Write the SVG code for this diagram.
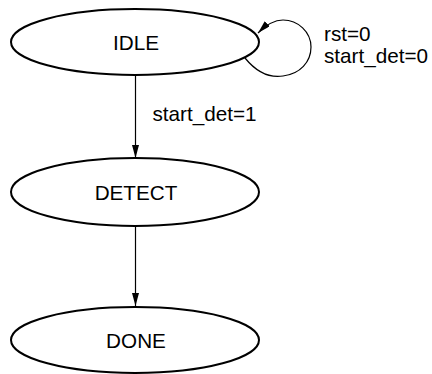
<svg xmlns="http://www.w3.org/2000/svg" width="432" height="374" viewBox="0 0 432 374">
<style>
.node{fill:#ffffff;stroke:#000000;stroke-width:2}
.lbl{font-family:"Liberation Sans",Arial,sans-serif;font-size:20.7px;fill:#000000}
.edge{fill:none;stroke:#000000;stroke-width:1.2}
</style>
<defs>
<marker id="arr" markerUnits="userSpaceOnUse" markerWidth="14" markerHeight="8" refX="13" refY="3.5" orient="auto">
<path d="M0,0 L13,3.5 L0,7 z" fill="#000000"/>
</marker>
</defs>
<rect width="432" height="374" fill="#ffffff"/>
<g id="edges">
<line class="edge" x1="135.5" y1="75" x2="135.5" y2="158" marker-end="url(#arr)"/>
<line class="edge" x1="135.5" y1="226" x2="135.5" y2="306" marker-end="url(#arr)"/>
<path class="edge" d="M245,58 C258,74 270,78 283,76 C300,74 311,62 311,47 C311,32 298,20 283,20 C273,20 265,26 258,33" marker-end="url(#arr)"/>
<text class="lbl" x="152.5" y="121">start_det=1</text>
<text class="lbl" x="324" y="41">rst=0</text>
<text class="lbl" x="324" y="63">start_det=0</text>
</g>
<g id="IDLE">
<ellipse class="node" cx="135" cy="42" rx="124" ry="33"/>
<text class="lbl" x="136" y="50" text-anchor="middle">IDLE</text>
</g>
<g id="DETECT">
<ellipse class="node" cx="135" cy="192" rx="124" ry="34"/>
<text class="lbl" x="136" y="200" text-anchor="middle">DETECT</text>
</g>
<g id="DONE">
<ellipse class="node" cx="135" cy="340" rx="124" ry="33"/>
<text class="lbl" x="136" y="348" text-anchor="middle">DONE</text>
</g>
</svg>
